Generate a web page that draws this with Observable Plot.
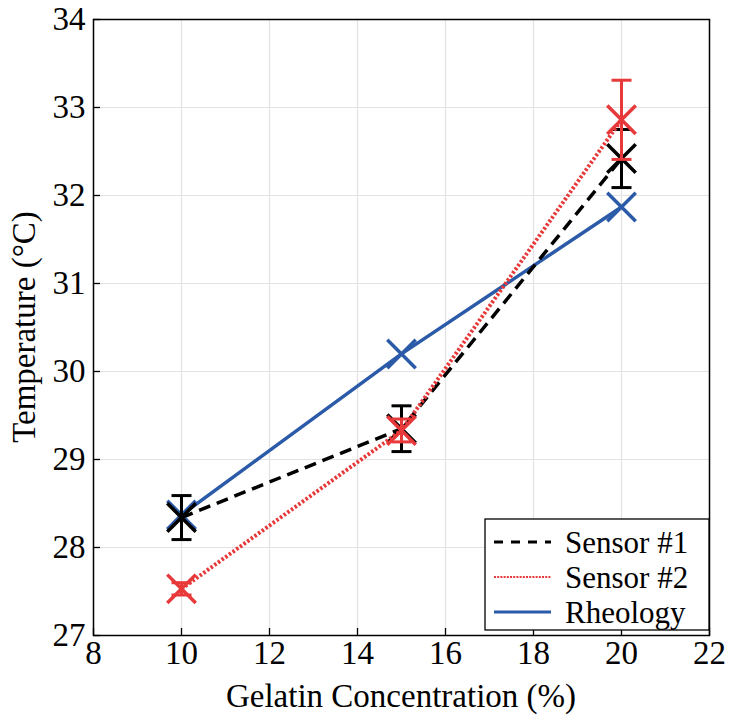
<!DOCTYPE html>
<html>
<head>
<meta charset="utf-8">
<script src="https://cdn.jsdelivr.net/npm/d3@7"></script>
<script src="https://cdn.jsdelivr.net/npm/@observablehq/plot@0.6"></script>
<style>
  html, body { margin: 0; padding: 0; background: #fff; }
  #chart { width: 730px; height: 721px; }
</style>
</head>
<body>
<div id="chart"></div>
<script>
const concentration = [10, 15, 20];
const sensor1 = [28.34, 29.35, 32.42];
const sensor1Err = [0.25, 0.26, 0.33];
const sensor2 = [27.53, 29.33, 32.86];
const sensor2Err = [0.07, 0.13, 0.45];
const rheology = [28.37, 30.2, 31.87];
const xTicks = [8, 10, 12, 14, 16, 18, 20, 22];
const yTicks = [27, 28, 29, 30, 31, 32, 33, 34];
const seriesNames = ["Sensor #1", "Sensor #2", "Rheology"];
const xLabel = "Gelatin Concentration (%)";
const yLabel = "Temperature (°C)";

const colors = { s1: "#000000", s2: "#e8393a", rh: "#2b5aa8" };
const font = "'Liberation Serif', 'Times New Roman', serif";

const s1 = concentration.map((x, i) => ({ x, y: sensor1[i], lo: sensor1[i] - sensor1Err[i], hi: sensor1[i] + sensor1Err[i] }));
const s2 = concentration.map((x, i) => ({ x, y: sensor2[i], lo: sensor2[i] - sensor2Err[i], hi: sensor2[i] + sensor2Err[i] }));
const rh = concentration.map((x, i) => ({ x, y: rheology[i] }));

const capSymbol = {
  draw(context, size) {
    const w = Math.sqrt(size / Math.PI);
    context.moveTo(-w, 0);
    context.lineTo(w, 0);
  }
};

function errorMarks(data, color) {
  return [
    Plot.ruleX(data, { x: "x", y1: "lo", y2: "hi", stroke: color, strokeWidth: 3 }),
    Plot.dot(data, { x: "x", y: "hi", symbol: capSymbol, r: 10, stroke: color, strokeWidth: 3 }),
    Plot.dot(data, { x: "x", y: "lo", symbol: capSymbol, r: 10, stroke: color, strokeWidth: 3 })
  ];
}

const plot = Plot.plot({
  width: 730,
  height: 721,
  marginLeft: 93,
  marginRight: 21,
  marginTop: 19,
  marginBottom: 86,
  style: { fontFamily: font, background: "#fff" },
  x: { domain: [8, 22] },
  y: { domain: [27, 34] },
  marks: [
    Plot.gridX(xTicks, { stroke: "#e2e2e2", strokeOpacity: 1, strokeWidth: 1.2 }),
    Plot.gridY(yTicks, { stroke: "#e2e2e2", strokeOpacity: 1, strokeWidth: 1.2 }),
    Plot.axisX({ ticks: xTicks, tickFormat: "d", tickSize: -7, tickPadding: 12, fontSize: 33, stroke: "#000", strokeWidth: 1.3, label: null }),
    Plot.axisY({ ticks: yTicks, tickFormat: "d", tickSize: -7, tickPadding: 15, fontSize: 33, stroke: "#000", strokeWidth: 1.3, label: null }),
    Plot.frame({ stroke: "#000", strokeWidth: 1.5 }),
    // Rheology
    Plot.line(rh, { x: "x", y: "y", stroke: colors.rh, strokeWidth: 3.5 }),
    Plot.dot(rh, { x: "x", y: "y", symbol: "times", r: 13, stroke: colors.rh, strokeWidth: 3.5 }),
    // Sensor #1
    Plot.line(s1, { x: "x", y: "y", stroke: colors.s1, strokeWidth: 3.5, strokeDasharray: "12,7", strokeLinecap: "butt" }),
    ...errorMarks(s1, colors.s1),
    Plot.dot(s1, { x: "x", y: "y", symbol: "times", r: 13, stroke: colors.s1, strokeWidth: 3.5 }),
    // Sensor #2
    Plot.line(s2, { x: "x", y: "y", stroke: colors.s2, strokeWidth: 4, strokeDasharray: "2.5,2", strokeLinecap: "butt" }),
    ...errorMarks(s2, colors.s2),
    Plot.dot(s2, { x: "x", y: "y", symbol: "times", r: 13, stroke: colors.s2, strokeWidth: 3.5 })
  ]
});

document.getElementById("chart").appendChild(plot);

const svg = d3.select(plot);

// Axis labels
svg.append("text").attr("x", 401).attr("y", 707)
  .attr("text-anchor", "middle").attr("font-family", font).attr("font-size", 33).attr("fill", "#000")
  .text(xLabel);
svg.append("text").attr("transform", "translate(23,327) rotate(-90)").attr("dy", "0.35em")
  .attr("text-anchor", "middle").attr("font-family", font).attr("font-size", 33).attr("fill", "#000")
  .text(yLabel);

// Legend inside the plot area (lower right)
const lg = svg.append("g").attr("transform", "translate(485,519)");
lg.append("rect").attr("width", 224).attr("height", 111).attr("fill", "#fff").attr("stroke", "#000").attr("stroke-width", 1.3);
const legendStyles = [
  { color: colors.s1, dash: "9,8", width: 3 },
  { color: colors.s2, dash: "2,1.2", width: 2 },
  { color: colors.rh, dash: null, width: 3 }
];
seriesNames.forEach((name, i) => {
  const yy = 23 + i * 35;
  const ln = lg.append("line").attr("x1", 9).attr("x2", 66).attr("y1", yy).attr("y2", yy)
    .attr("stroke", legendStyles[i].color).attr("stroke-width", legendStyles[i].width);
  if (legendStyles[i].dash) ln.attr("stroke-dasharray", legendStyles[i].dash);
  lg.append("text").attr("x", 80).attr("y", yy).attr("dy", "0.35em").attr("text-anchor", "start")
    .attr("font-family", font).attr("font-size", 31).attr("fill", "#000").text(name);
});
</script>
</body>
</html>
